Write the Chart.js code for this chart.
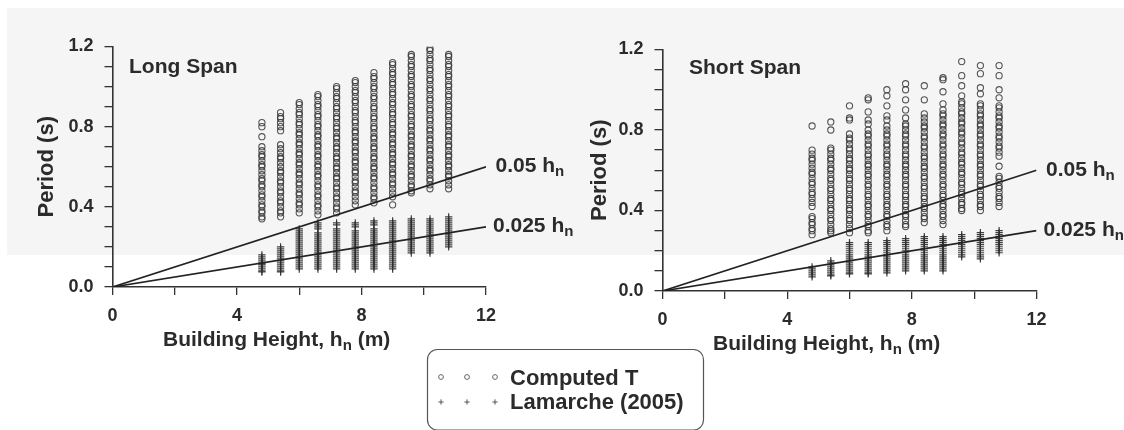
<!DOCTYPE html>
<html><head><meta charset="utf-8">
<script src="https://cdn.jsdelivr.net/npm/chart.js@4/dist/chart.umd.min.js"></script>
<style>
html,body{margin:0;padding:0;background:#fff;width:1124px;height:430px;overflow:hidden;}
#band{position:absolute;left:7px;top:8px;width:1117px;height:247px;background:#f5f5f5;}
canvas{position:absolute;left:0;top:0;}
</style></head>
<body>
<div id="band"></div>
<canvas id="cL" width="1124" height="430"></canvas>
<canvas id="cR" width="1124" height="430"></canvas>
<script>
const FONT = "'Liberation Sans', Arial, Helvetica, sans-serif";
const TEXT = '#2b2b2b';

// building heights of the data columns (m)
const heights = [4.8, 5.4, 6.0, 6.6, 7.2, 7.8, 8.4, 9.0, 9.6, 10.2, 10.8];

// Long span: computed periods T (s), one list per height
const longSpanComputedT = [
  [0.82,0.80,0.75,0.70,0.68,0.66,0.65,0.63,0.61,0.60,0.58,0.56,0.54,0.53,0.51,0.50,0.48,0.46,0.45,0.43,0.41,0.40,0.38,0.37,0.35,0.34],
  [0.87,0.85,0.84,0.82,0.80,0.78,0.71,0.69,0.67,0.65,0.64,0.62,0.60,0.58,0.57,0.55,0.53,0.52,0.50,0.48,0.47,0.45,0.43,0.42,0.40,0.38,0.37,0.35],
  [0.92,0.91,0.89,0.87,0.86,0.84,0.82,0.81,0.79,0.77,0.76,0.74,0.72,0.71,0.69,0.67,0.66,0.64,0.62,0.61,0.59,0.57,0.56,0.54,0.52,0.51,0.49,0.47,0.46,0.44,0.42,0.41,0.39,0.37],
  [0.96,0.95,0.93,0.91,0.90,0.88,0.86,0.85,0.83,0.81,0.80,0.78,0.76,0.75,0.73,0.71,0.70,0.68,0.66,0.65,0.63,0.61,0.60,0.58,0.56,0.55,0.53,0.51,0.50,0.48,0.46,0.45,0.43,0.41,0.40,0.38,0.36],
  [1.00,0.99,0.97,0.95,0.94,0.92,0.90,0.89,0.87,0.85,0.84,0.82,0.80,0.79,0.77,0.75,0.74,0.72,0.70,0.69,0.67,0.65,0.64,0.62,0.60,0.59,0.57,0.55,0.54,0.52,0.50,0.49,0.47,0.45,0.44,0.42,0.40,0.39,0.37],
  [1.03,1.02,1.00,0.98,0.97,0.95,0.93,0.92,0.90,0.88,0.87,0.85,0.83,0.82,0.80,0.78,0.77,0.75,0.73,0.72,0.70,0.68,0.67,0.65,0.63,0.62,0.60,0.58,0.57,0.55,0.53,0.52,0.50,0.48,0.47,0.45,0.43,0.41],
  [1.07,1.05,1.04,1.02,1.00,0.99,0.97,0.95,0.94,0.92,0.90,0.89,0.87,0.85,0.84,0.82,0.80,0.79,0.77,0.75,0.74,0.72,0.70,0.69,0.67,0.65,0.64,0.62,0.60,0.59,0.57,0.55,0.54,0.52,0.50,0.49,0.47,0.45,0.44,0.42],
  [1.12,1.11,1.09,1.07,1.06,1.04,1.02,1.01,0.99,0.97,0.96,0.94,0.92,0.91,0.89,0.87,0.86,0.84,0.82,0.81,0.79,0.77,0.76,0.74,0.72,0.71,0.69,0.67,0.66,0.64,0.62,0.61,0.59,0.57,0.56,0.54,0.52,0.51,0.49,0.47,0.45,0.41],
  [1.16,1.15,1.13,1.11,1.10,1.08,1.06,1.05,1.03,1.01,1.00,0.98,0.96,0.95,0.93,0.91,0.90,0.88,0.86,0.85,0.83,0.81,0.80,0.78,0.76,0.75,0.73,0.71,0.70,0.68,0.66,0.65,0.63,0.61,0.60,0.58,0.56,0.55,0.53,0.51,0.50,0.48,0.47],
  [1.19,1.18,1.16,1.14,1.13,1.11,1.09,1.08,1.06,1.04,1.03,1.01,0.99,0.98,0.96,0.94,0.93,0.91,0.89,0.88,0.86,0.84,0.83,0.81,0.79,0.78,0.76,0.74,0.73,0.71,0.69,0.68,0.66,0.64,0.63,0.61,0.59,0.58,0.56,0.54,0.53,0.51,0.49],
  [1.24,1.16,1.15,1.13,1.11,1.10,1.08,1.06,1.05,1.03,1.01,1.00,0.98,0.96,0.95,0.93,0.91,0.90,0.88,0.86,0.85,0.83,0.81,0.80,0.78,0.76,0.75,0.73,0.71,0.70,0.68,0.66,0.65,0.63,0.61,0.60,0.58,0.56,0.55,0.53,0.51,0.49]
];

// Long span: Lamarche (2005) periods (s)
const longSpanLamarche = [
  [0.16,0.15,0.14,0.13,0.12,0.115,0.11,0.10,0.09,0.08,0.075],
  [0.20,0.19,0.18,0.17,0.16,0.15,0.14,0.13,0.12,0.11,0.10,0.09,0.08,0.075],
  [0.29,0.28,0.27,0.26,0.25,0.24,0.23,0.22,0.21,0.20,0.19,0.18,0.17,0.16,0.15,0.14,0.13,0.12,0.11,0.10,0.09],
  [0.32,0.31,0.30,0.29,0.27,0.26,0.25,0.24,0.23,0.22,0.21,0.20,0.19,0.18,0.17,0.16,0.15,0.14,0.13,0.12,0.11,0.10,0.09],
  [0.32,0.31,0.29,0.28,0.27,0.26,0.25,0.24,0.23,0.22,0.21,0.20,0.19,0.18,0.17,0.16,0.15,0.14,0.13,0.12,0.11,0.10,0.09],
  [0.32,0.31,0.30,0.28,0.27,0.26,0.25,0.24,0.23,0.22,0.21,0.20,0.19,0.18,0.17,0.16,0.15,0.14,0.13,0.12,0.11,0.10,0.09],
  [0.33,0.32,0.31,0.29,0.28,0.27,0.26,0.25,0.24,0.23,0.22,0.21,0.20,0.19,0.18,0.17,0.16,0.15,0.14,0.13,0.12,0.11,0.10,0.09],
  [0.33,0.32,0.31,0.30,0.29,0.28,0.27,0.26,0.25,0.24,0.23,0.22,0.21,0.20,0.19,0.18,0.17,0.16,0.15,0.14,0.13,0.12,0.11,0.10,0.09],
  [0.34,0.33,0.32,0.31,0.30,0.29,0.28,0.27,0.26,0.25,0.24,0.23,0.22,0.21,0.20,0.19,0.18,0.17],
  [0.34,0.33,0.32,0.31,0.30,0.29,0.28,0.27,0.26,0.25,0.24,0.23,0.22,0.21,0.20,0.19,0.18,0.17],
  [0.35,0.34,0.33,0.32,0.31,0.30,0.29,0.28,0.27,0.26,0.25,0.24,0.23,0.22,0.21,0.20]
];

// Short span: computed periods T (s)
const shortSpanComputedT = [
  [0.82,0.70,0.68,0.66,0.65,0.63,0.61,0.59,0.58,0.56,0.54,0.53,0.51,0.49,0.48,0.46,0.44,0.42,0.37,0.36,0.34,0.33,0.31,0.30,0.28],
  [0.84,0.80,0.71,0.70,0.68,0.66,0.65,0.63,0.61,0.60,0.58,0.56,0.55,0.53,0.51,0.50,0.48,0.46,0.45,0.43,0.41,0.40,0.38,0.36,0.35,0.33,0.31,0.30,0.29],
  [0.92,0.86,0.85,0.78,0.76,0.75,0.73,0.71,0.70,0.68,0.66,0.65,0.63,0.61,0.60,0.58,0.56,0.55,0.53,0.51,0.50,0.48,0.46,0.45,0.43,0.41,0.40,0.38,0.36,0.35,0.33,0.31,0.29],
  [0.96,0.95,0.89,0.85,0.83,0.80,0.78,0.77,0.75,0.73,0.72,0.70,0.68,0.67,0.65,0.63,0.62,0.60,0.58,0.57,0.55,0.53,0.52,0.50,0.48,0.47,0.45,0.43,0.42,0.40,0.38,0.37,0.35,0.33,0.32,0.30,0.29],
  [1.00,0.97,0.92,0.87,0.85,0.82,0.80,0.78,0.77,0.75,0.73,0.72,0.70,0.68,0.67,0.65,0.63,0.62,0.60,0.58,0.57,0.55,0.53,0.52,0.50,0.48,0.47,0.45,0.43,0.42,0.40,0.38,0.37,0.35,0.33,0.32,0.30],
  [1.03,1.00,0.95,0.90,0.86,0.83,0.82,0.80,0.78,0.77,0.75,0.73,0.72,0.70,0.68,0.67,0.65,0.63,0.62,0.60,0.58,0.57,0.55,0.53,0.52,0.50,0.48,0.47,0.45,0.43,0.42,0.40,0.38,0.37,0.35,0.33,0.32],
  [1.02,0.95,0.88,0.86,0.84,0.82,0.81,0.79,0.77,0.76,0.74,0.72,0.71,0.69,0.67,0.66,0.64,0.62,0.61,0.59,0.57,0.56,0.54,0.52,0.51,0.49,0.47,0.46,0.44,0.42,0.41,0.39,0.37,0.36,0.34],
  [1.06,1.05,0.99,0.93,0.90,0.88,0.87,0.85,0.83,0.82,0.80,0.78,0.77,0.75,0.73,0.72,0.70,0.68,0.67,0.65,0.63,0.62,0.60,0.58,0.57,0.55,0.53,0.52,0.50,0.48,0.47,0.45,0.43,0.42,0.40,0.38,0.37,0.35,0.33],
  [1.14,1.07,1.02,0.97,0.94,0.93,0.91,0.89,0.88,0.86,0.84,0.83,0.81,0.79,0.78,0.76,0.74,0.73,0.71,0.69,0.68,0.66,0.64,0.63,0.61,0.59,0.58,0.56,0.54,0.53,0.51,0.49,0.48,0.46,0.44,0.43,0.41,0.40],
  [1.12,1.08,1.01,0.98,0.93,0.92,0.90,0.88,0.87,0.85,0.83,0.82,0.80,0.78,0.77,0.75,0.73,0.72,0.70,0.68,0.67,0.65,0.63,0.62,0.60,0.58,0.57,0.55,0.53,0.52,0.50,0.48,0.47,0.45,0.43,0.42,0.40],
  [1.12,1.07,1.00,0.96,0.92,0.91,0.89,0.87,0.86,0.84,0.82,0.81,0.79,0.77,0.76,0.74,0.72,0.71,0.69,0.67,0.62,0.57,0.56,0.54,0.52,0.51,0.49,0.47,0.46,0.44,0.42]
];

// Short span: Lamarche (2005) periods (s)
const shortSpanLamarche = [
  [0.12,0.11,0.10,0.09,0.08,0.07],
  [0.15,0.14,0.13,0.12,0.11,0.10,0.09,0.08,0.075],
  [0.24,0.23,0.22,0.21,0.20,0.19,0.18,0.17,0.16,0.15,0.14,0.13,0.12,0.11,0.10,0.09,0.085],
  [0.24,0.23,0.22,0.21,0.20,0.19,0.18,0.17,0.16,0.15,0.14,0.13,0.12,0.11,0.10,0.09,0.085],
  [0.25,0.24,0.23,0.22,0.21,0.20,0.19,0.18,0.17,0.16,0.15,0.14,0.13,0.12,0.11,0.10,0.09],
  [0.26,0.25,0.24,0.23,0.22,0.21,0.20,0.19,0.18,0.17,0.16,0.15,0.14,0.13,0.12,0.11,0.10],
  [0.27,0.26,0.25,0.24,0.23,0.22,0.21,0.20,0.19,0.18,0.17,0.16,0.15,0.14,0.13,0.12,0.11,0.10],
  [0.27,0.26,0.25,0.24,0.23,0.22,0.21,0.20,0.19,0.18,0.17,0.16,0.15,0.14,0.13,0.12,0.11,0.10],
  [0.28,0.27,0.26,0.25,0.24,0.23,0.22,0.21,0.20,0.19,0.18,0.17],
  [0.29,0.28,0.27,0.26,0.25,0.24,0.23,0.22,0.21,0.20,0.19,0.18,0.17,0.16],
  [0.30,0.29,0.28,0.27,0.26,0.25,0.24,0.23,0.22,0.21,0.20,0.19]
];

// code lines 0.05 hn and 0.025 hn
const codeLineHeights = [0, 12];
const codeLine005 = [0, 0.6];
const codeLine0025 = [0, 0.3];

const xTickLabels = ['0', '4', '8', '12'];
const yTickLabels = ['0.0', '0.4', '0.8', '1.2'];

function toPoints(cols) {
  const pts = [];
  cols.forEach((vals, i) => vals.forEach(v => pts.push({x: heights[i], y: v})));
  return pts;
}
function linePoints(ys) {
  return codeLineHeights.map((h, i) => ({x: h, y: ys[i]}));
}

function drawRich(ctx, x, y, parts) {
  let cx = x;
  for (const p of parts) {
    ctx.font = 'bold ' + p.size + 'px ' + FONT;
    ctx.fillText(p.t, cx, y + (p.dy || 0));
    cx += ctx.measureText(p.t).width;
  }
}

const panelPlugin = {
  id: 'panel',
  afterDraw(chart, args, o) {
    const {ctx, chartArea: a, scales: {x, y}} = chart;
    ctx.save();
    ctx.fillStyle = TEXT;
    ctx.textBaseline = 'alphabetic';
    ctx.textAlign = 'left';
    ctx.font = 'bold 21px ' + FONT;
    ctx.fillText(o.name, a.left + o.nameDx, a.top + o.nameDy);
    const ex = x.getPixelForValue(codeLineHeights[1]);
    drawRich(ctx, ex + 9.5, y.getPixelForValue(codeLine005[1]) + 5.5,
      [{t: '0.05 h', size: 21}, {t: 'n', size: 15, dy: 4}]);
    drawRich(ctx, ex + 7, y.getPixelForValue(codeLine0025[1]) + 5.5,
      [{t: '0.025 h', size: 21}, {t: 'n', size: 15, dy: 4}]);
    drawRich(ctx, a.left + 50.5, a.bottom + o.titleDy,
      [{t: 'Building Height, h', size: 21}, {t: 'n', size: 15, dy: 4}, {t: ' (m)', size: 21}]);
    if (o.legend) {
      const L = 427.5, R = 703.5, T = 349.5, B = 430, r = 10;
      ctx.strokeStyle = '#555';
      ctx.lineWidth = 1.2;
      ctx.beginPath();
      ctx.moveTo(L + r, T);
      ctx.lineTo(R - r, T);
      ctx.arcTo(R, T, R, T + r, r);
      ctx.lineTo(R, B - r);
      ctx.arcTo(R, B, R - r, B, r);
      ctx.lineTo(L + r, B);
      ctx.arcTo(L, B, L, B - r, r);
      ctx.lineTo(L, T + r);
      ctx.arcTo(L, T, L + r, T, r);
      ctx.closePath();
      ctx.stroke();
      const mx = [441, 467, 495];
      ctx.strokeStyle = '#666';
      ctx.lineWidth = 1;
      mx.forEach(px => { ctx.beginPath(); ctx.arc(px, 377, 2.4, 0, Math.PI * 2); ctx.stroke(); });
      ctx.strokeStyle = '#555';
      mx.forEach(px => {
        ctx.beginPath();
        ctx.moveTo(px - 2.6, 402); ctx.lineTo(px + 2.6, 402);
        ctx.moveTo(px, 399.4); ctx.lineTo(px, 404.6);
        ctx.stroke();
      });
      ctx.fillStyle = TEXT;
      ctx.font = 'bold 22px ' + FONT;
      ctx.fillText('Computed T', 510, 385);
      ctx.fillText('Lamarche (2005)', 510, 409);
    }
    ctx.restore();
  }
};

function makeChart(id, area, computed, lamarche, panelOpts) {
  const padLeft = area.titleCenter - 47;
  return new Chart(document.getElementById(id), {
    type: 'scatter',
    data: {
      datasets: [
        {label: '0.05 hn', data: linePoints(codeLine005), showLine: true, borderColor: '#222', borderWidth: 1.7, pointRadius: 0, fill: false},
        {label: '0.025 hn', data: linePoints(codeLine0025), showLine: true, borderColor: '#222', borderWidth: 1.7, pointRadius: 0, fill: false},
        {label: 'Lamarche (2005)', data: toPoints(lamarche), pointStyle: 'cross', pointRadius: 3.7, borderColor: 'rgba(45,45,45,0.9)', borderWidth: 1.2, backgroundColor: 'transparent'},
        {label: 'Computed T', data: toPoints(computed), pointStyle: 'circle', pointRadius: 3.1, borderColor: 'rgba(55,55,55,0.85)', borderWidth: 1.1, backgroundColor: 'transparent'}
      ]
    },
    options: {
      responsive: false,
      animation: false,
      devicePixelRatio: 1,
      layout: {padding: {left: padLeft, right: 1124 - area.right, top: area.top, bottom: 0}},
      plugins: {
        legend: {display: false},
        tooltip: {enabled: false},
        panel: panelOpts
      },
      scales: {
        x: {
          type: 'linear', min: 0, max: 12,
          afterFit: s => { s.height = 430 - area.bottom; },
          ticks: {
            stepSize: 2, autoSkip: false, maxRotation: 0, padding: 10,
            color: TEXT, font: {family: FONT, size: 18, weight: 'bold'},
            callback: v => xTickLabels.includes(String(v)) ? String(v) : ''
          },
          grid: {drawOnChartArea: false, drawTicks: true, tickLength: 8, color: '#333', lineWidth: 1.3},
          border: {display: true, color: '#333', width: 1.6}
        },
        y: {
          type: 'linear', min: 0, max: 1.2,
          afterFit: s => { s.width = area.left - padLeft; },
          ticks: {
            stepSize: 0.1, autoSkip: false, padding: 11,
            color: TEXT, font: {family: FONT, size: 18, weight: 'bold'},
            callback: v => { const t = (Math.round(v * 10) / 10).toFixed(1); return yTickLabels.includes(t) ? t : ''; }
          },
          grid: {drawOnChartArea: false, drawTicks: true, tickLength: 8, color: '#333', lineWidth: 1.3},
          border: {display: true, color: '#333', width: 1.6},
          title: {display: true, text: 'Period (s)', color: TEXT, font: {family: FONT, size: 22, weight: 'bold'}, padding: {top: 34, bottom: 0}}
        }
      }
    },
    plugins: [panelPlugin]
  });
}

makeChart('cL', {left: 112.5, right: 486, top: 46.5, bottom: 287, titleCenter: 47},
  longSpanComputedT, longSpanLamarche,
  {name: 'Long Span', nameDx: 16.5, nameDy: 26.5, titleDy: 59, legend: false});
makeChart('cR', {left: 662.5, right: 1036.5, top: 49.5, bottom: 291, titleCenter: 600},
  shortSpanComputedT, shortSpanLamarche,
  {name: 'Short Span', nameDx: 26.5, nameDy: 24, titleDy: 59, legend: true});
</script>
</body></html>
